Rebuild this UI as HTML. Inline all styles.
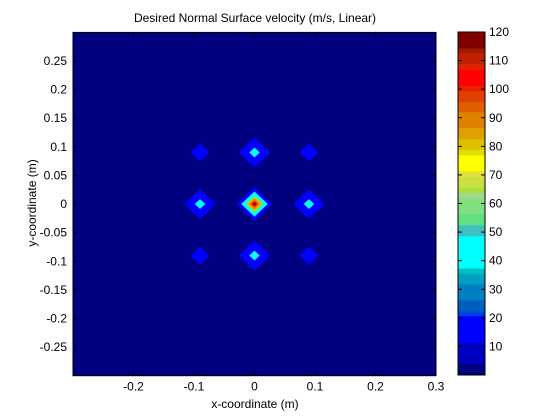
<!DOCTYPE html>
<html><head><meta charset="utf-8"><style>
body{margin:0;background:#fff;}
svg{display:block;font-family:"Liberation Sans",Arial,sans-serif;}
</style></head><body>
<svg id="chart" width="560" height="420" viewBox="0 0 560 420" xmlns="http://www.w3.org/2000/svg">
<rect width="560" height="420" fill="#fff"/>
<text x="255" y="22" font-size="12" text-anchor="middle">Desired Normal Surface velocity (m/s, Linear)</text>
<g id="plot"></g>
<g id="axes"></g>
<g id="cbar"></g>
<text x="255" y="408" font-size="12" text-anchor="middle">x-coordinate (m)</text>
<text x="0" y="0" font-size="12" text-anchor="middle" transform="translate(36,203) rotate(-90)">y-coordinate (m)</text>
</svg>
<script>
const srcX = [-0.09, 0, 0.09, -0.09, 0, 0.09, -0.09, 0, 0.09];
const srcY = [0.09, 0.09, 0.09, 0, 0, 0, -0.09, -0.09, -0.09];
const srcPeak = [19.5, 52, 19.5, 52, 120, 52, 19.5, 52, 19.5];
const srcRadius = 0.0322;
const levelLow = [0, 10, 38, 68, 85, 100, 112];
const levelColor = ["#000080", "#0000ff", "#00ffff", "#e0c000", "#e08000", "#ff0000", "#800000"];
const bandLow = [0,4,11.3,20.7,22.4,26.3,31.9,35.6,37.4,48.7,52.5,56.4,61.9,63.8,65.7,69.2,71.4,77,78.9,82.6,86.6,92.1,95.6,99.5,101.3,106.9,109,112.7,114.4];
const bandColor = ["#000080","#0000c0","#0000ff","#0040e0","#0060c0","#0080c0","#00a0c0","#00c0c0","#00ffff","#40c0c0","#60e080","#80e080","#a0d890","#a8e040","#c8e040","#e0e040","#ffff00","#e0e000","#e0c000","#e0a000","#e08000","#e06000","#e04000","#e82000","#ff0000","#e02000","#c02000","#a01c00","#800000"];
const xTicks = [-0.2,-0.1,0,0.1,0.2,0.3];
const yTicks = [0.25,0.2,0.15,0.1,0.05,0,-0.05,-0.1,-0.15,-0.2,-0.25];
const cTicks = [10,20,30,40,50,60,70,80,90,100,110,120];

const NS="http://www.w3.org/2000/svg";
const L=73,R=436,T=32.4,B=375.7;
const xs=v=>L+(v+0.3)/0.6*(R-L);
const ys=v=>B-(v+0.3)/0.6*(B-T);
const CT=32,CB=375,CL=458,CR=485;
const cs=v=>CB-v/120*(CB-CT);
function mk(tag,attrs,parent){const e=document.createElementNS(NS,tag);for(const k in attrs)e.setAttribute(k,attrs[k]);parent.appendChild(e);return e;}
const plot=document.getElementById('plot'),axes=document.getElementById('axes'),cbar=document.getElementById('cbar');
let bg=mk('rect',{x:L,y:T,width:R-L,height:B-T,fill:levelColor[0]},plot);


const pxPerX=(R-L)/0.6, pxPerY=(B-T)/0.6;
for(let i=0;i<srcX.length;i++){
  const cx=xs(srcX[i]),cy=ys(srcY[i]);
  for(let b=1;b<levelLow.length;b++){
    if(levelLow[b]>=srcPeak[i])break;
    const d=srcRadius*(1-levelLow[b]/srcPeak[i]);
    const hx=d*pxPerX,hy=d*pxPerY;
    const p=mk('polygon',{points:`${cx},${cy-hy} ${cx+hx},${cy} ${cx},${cy+hy} ${cx-hx},${cy}`,fill:levelColor[b]},plot);
    
    
  }
}
mk('rect',{x:L,y:T,width:R-L,height:B-T,fill:'none',stroke:'#000','stroke-width':1},axes);
xTicks.forEach(v=>{const x=xs(v);
  mk('line',{x1:x,y1:B,x2:x,y2:B-4,stroke:'#000'},axes);
  mk('line',{x1:x,y1:T,x2:x,y2:T+4,stroke:'#000'},axes);
  const t=mk('text',{x:x,y:B+15,'font-size':12,'text-anchor':'middle'},axes);t.textContent=String(v);
  
  });
yTicks.forEach(v=>{const y=ys(v);
  mk('line',{x1:L,y1:y,x2:L+4,y2:y,stroke:'#000'},axes);
  mk('line',{x1:R,y1:y,x2:R-4,y2:y,stroke:'#000'},axes);
  const t=mk('text',{x:L-6,y:y+4,'font-size':12,'text-anchor':'end'},axes);t.textContent=String(v);
  
  });
for(let b=0;b<bandLow.length;b++){
  const hi=b+1<bandLow.length?bandLow[b+1]:120;
  const r=mk('rect',{x:CL,y:cs(hi),width:CR-CL,height:cs(bandLow[b])-cs(hi)+0.5,fill:bandColor[b]},cbar);
  
  
}
mk('rect',{x:CL,y:CT,width:CR-CL,height:CB-CT,fill:'none',stroke:'#000'},cbar);
cTicks.forEach(v=>{const y=cs(v);
  mk('line',{x1:CR,y1:y,x2:CR-4,y2:y,stroke:'#000'},cbar);
  mk('line',{x1:CL,y1:y,x2:CL+4,y2:y,stroke:'#000'},cbar);
  const t=mk('text',{x:CR+4,y:y+4,'font-size':12},cbar);t.textContent=String(v);
  
  });
</script>
</body></html>
